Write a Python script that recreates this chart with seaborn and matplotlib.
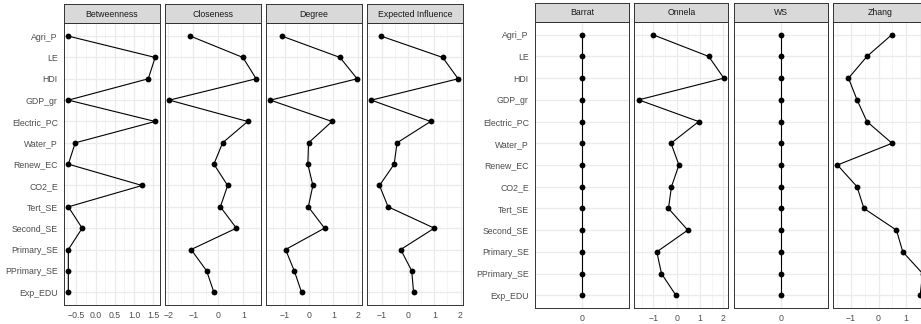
import numpy as np
import pandas as pd
import seaborn as sns
import matplotlib.pyplot as plt

labels = ["Agri_P", "LE", "HDI", "GDP_gr", "Electric_PC", "Water_P", "Renew_EC",
          "CO2_E", "Tert_SE", "Second_SE", "Primary_SE", "PPrimary_SE", "Exp_EDU"]

betweenness = [-0.71, 1.55, 1.37, -0.71, 1.55, -0.53, -0.71, 1.21, -0.71, -0.35, -0.71, -0.71, -0.71]
closeness = [-1.12, 0.98, 1.51, -1.96, 1.17, 0.17, -0.18, 0.37, 0.08, 0.72, -1.09, -0.47, -0.18]
degree = [-1.13, 1.27, 1.98, -1.61, 0.94, -0.03, -0.06, 0.15, -0.04, 0.63, -0.98, -0.62, -0.32]
expected_influence = [-1.03, 1.32, 1.91, -1.40, 0.86, -0.42, -0.53, -1.09, -0.76, 1.00, -0.28, 0.14, 0.21]

barrat = [0, 0, 0, 0, 0, 0, 0, 0, 0, 0, 0, 0, 0]
onnela = [-1.02, 1.38, 2.03, -1.63, 0.95, -0.24, 0.10, -0.22, -0.35, 0.48, -0.85, -0.65, -0.03]
ws = [0, 0, 0, 0, 0, 0, 0, 0, 0, 0, 0, 0, 0]
zhang = [0.48, -0.42, -1.09, -0.78, -0.42, 0.49, -1.49, -0.78, -0.53, 0.65, 0.88, 1.60, 1.51]

left_measures = ["Betweenness", "Closeness", "Degree", "Expected Influence"]
right_measures = ["Barrat", "Onnela", "WS", "Zhang"]
values = {
    "Betweenness": betweenness, "Closeness": closeness, "Degree": degree,
    "Expected Influence": expected_influence,
    "Barrat": barrat, "Onnela": onnela, "WS": ws, "Zhang": zhang,
}
x_ticks = {
    "Betweenness": [-0.5, 0.0, 0.5, 1.0, 1.5],
    "Closeness": [-2, -1, 0, 1],
    "Degree": [-1, 0, 1, 2],
    "Expected Influence": [-1, 0, 1, 2],
    "Barrat": [0],
    "Onnela": [-1, 0, 1, 2],
    "WS": [0],
    "Zhang": [-1, 0, 1],
}
tick_fmt = {"Betweenness": "{:.1f}"}

W, H = 921, 324
FS = 6.3


def px_axes(fig, x0, y0, x1, y1):
    # pixel box (top-left origin) -> figure fraction
    return fig.add_axes([x0 / W, 1 - y1 / H, (x1 - x0) / W, (y1 - y0) / H])


def draw_panel(fig, name, x0, width, strip_top, panel_top, panel_bottom, first):
    vals = values[name]
    n = len(labels)
    df = pd.DataFrame({"value": vals, "pos": [n - i for i in range(n)]})

    ax = px_axes(fig, x0, panel_top, x0 + width, panel_bottom)
    ax.set_facecolor("white")
    sns.lineplot(data=df, x="value", y="pos", orient="y", sort=False, estimator=None,
                 color="black", linewidth=0.8, marker="o", markersize=4.2,
                 markeredgewidth=0, ax=ax)

    lo, hi = min(vals), max(vals)
    if hi - lo == 0:
        lo, hi = lo - 0.5, hi + 0.5
    else:
        pad = (hi - lo) * 0.05
        lo, hi = lo - pad, hi + pad
    ax.set_xlim(lo, hi)
    ax.set_ylim(0.4, n + 0.6)

    major = x_ticks[name]
    fmt = tick_fmt.get(name, "{:g}")
    ax.set_xticks(major)
    ax.set_xticklabels([fmt.format(t).replace("-", "\u2212") for t in major])
    if len(major) > 1:
        step = major[1] - major[0]
        minor = [major[0] - step / 2] + [t + step / 2 for t in major]
        ax.set_xticks([m for m in minor if lo < m < hi], minor=True)

    ax.set_yticks(df["pos"])
    if first:
        ax.set_yticklabels(labels)
        ax.tick_params(axis="y", length=3, width=0.7, color="#333333", pad=1.5,
                       labelsize=FS, labelcolor="#4D4D4D")
    else:
        ax.tick_params(axis="y", left=False, labelleft=False)
    ax.tick_params(axis="x", which="major", length=3, width=0.7, color="#333333",
                   pad=1.2, labelsize=FS, labelcolor="#4D4D4D")
    ax.tick_params(axis="x", which="minor", length=0)

    ax.grid(which="major", color="#EBEBEB", linewidth=0.9)
    ax.grid(which="minor", axis="x", color="#F2F2F2", linewidth=0.5)
    ax.set_axisbelow(True)
    ax.set_xlabel("")
    ax.set_ylabel("")
    for sp in ax.spines.values():
        sp.set_color("#333333")
        sp.set_linewidth(0.7)

    sax = px_axes(fig, x0, strip_top, x0 + width, panel_top)
    sax.set_facecolor("#D9D9D9")
    sax.set_xticks([])
    sax.set_yticks([])
    for sp in sax.spines.values():
        sp.set_color("#333333")
        sp.set_linewidth(0.7)
    sax.text(0.5, 0.48, name, ha="center", va="center", fontsize=FS, color="#1A1A1A",
             transform=sax.transAxes)


def main():
    sns.set_theme(style="white")
    plt.rcParams["font.family"] = ["Liberation Sans", "DejaVu Sans"]
    plt.rcParams["axes.unicode_minus"] = True

    fig = plt.figure(figsize=(W / 100, H / 100), dpi=100)
    fig.patch.set_facecolor("white")

    for i, name in enumerate(left_measures):
        draw_panel(fig, name, 64.0 + i * 101.0, 95.5, 4.3, 23.3, 305.0, i == 0)
    for i, name in enumerate(right_measures):
        draw_panel(fig, name, 535.0 + i * 99.4, 93.7, 2.7, 21.7, 308.3, i == 0)

    fig.savefig("out.png", dpi=100, facecolor="white")


if __name__ == "__main__":
    main()
